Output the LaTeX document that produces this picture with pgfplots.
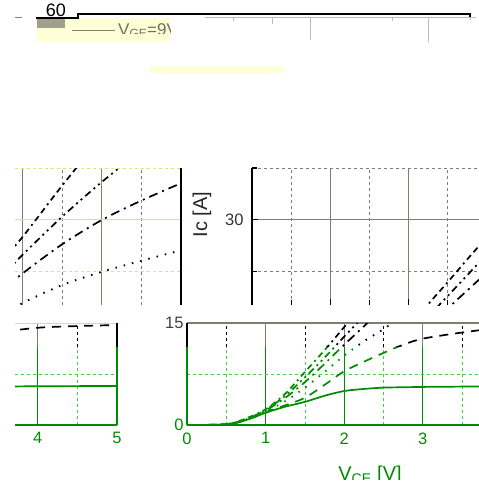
\documentclass[border=0pt]{standalone}
\usepackage{fontspec}
\setmainfont{Liberation Sans}
\usepackage{pgfplots}
\usepackage{pgfplotstable}
\pgfplotsset{compat=1.18}

\definecolor{gr}{RGB}{0,140,0}
\definecolor{lgr}{RGB}{70,205,70}
\definecolor{gridgray}{RGB}{125,125,115}
\definecolor{paleyel}{RGB}{255,255,215}
\definecolor{legfill}{RGB}{160,160,140}
\definecolor{yelgrid}{RGB}{225,225,120}

% collector current Ic [A] against V_CE [V], one column per gate voltage
\pgfplotstableread{
v     a     b     c     d     e     f
0     0     0     0     0     0     0
0.4   0.05  0.05  0.05  0.05  0.05  0.05
0.6   0.25  0.25  0.3   0.3   0.3   0.35
0.8   0.9   0.95  1.0   1.0   1.1   1.2
1.0   1.8   1.9   2.0   2.1   2.2   2.3
1.25  2.7   2.9   3.5   4.0   4.3   4.6
1.5   3.4   4.0   5.5   6.3   7.0   7.8
1.75  4.3   5.9   7.8   9.0   9.9   11.0
2.0   5.0   7.9   10.2  11.8  13.0  14.4
2.25  5.3   9.3   12.3  14.5  16.0  17.8
2.5   5.5   10.6  14.1  17.2  19.0  21.0
2.75  5.55  11.8  16.2  19.8  22.0  24.3
3.0   5.6   12.7  18.0  22.3  25.0  27.6
3.5   5.65  13.6  20.6  26.5  30.5  35.0
4.0   5.7   14.3  22.5  30.0  35.5  42.0
4.5   5.72  14.55 24.1  32.8  40.0  48.0
5.0   5.75  14.7  25.6  35.3  44.0  54.0
}\ic

\pgfplotsset{
  tile/.style={scale only axis, anchor=south west, clip=true,
    separate axis lines,
    /pgf/number format/assume math mode=true,
    tick label style={font=\fontsize{16.5}{16.5}\selectfont},
    tick align=inside, major tick length=0pt, minor tick length=0pt,
    grid=both},
  sA/.style={line width=1.7pt, smooth},
  sB/.style={line width=1.7pt, smooth, dash pattern=on 9pt off 7pt},
  sC/.style={line width=1.9pt, smooth, dash pattern=on 1.5pt off 7pt},
  sD/.style={line width=1.7pt, smooth, dash pattern=on 9pt off 5pt on 2pt off 5pt},
  sE/.style={line width=1.7pt, smooth, dash pattern=on 7pt off 4pt on 2pt off 4pt on 2pt off 4pt},
  sF/.style={line width=1.7pt, smooth, dash pattern=on 6pt off 4pt on 6pt off 4pt on 2pt off 4pt},
}
\newcommand\curves[1]{%
  \addplot[sA,#1] table[x=v,y=a]{\ic};
  \addplot[sB,#1] table[x=v,y=b]{\ic};
  \addplot[sC,#1] table[x=v,y=c]{\ic};
  \addplot[sD,#1] table[x=v,y=d]{\ic};
  \addplot[sE,#1] table[x=v,y=e]{\ic};
  \addplot[sF,#1] table[x=v,y=f]{\ic};
}

\begin{document}
\begin{tikzpicture}
\path[use as bounding box] (0pt,0pt) rectangle (479pt,-496pt);
\clip (0pt,0pt) rectangle (479pt,-496pt);

% top strip
\fill[paleyel] (37pt,-18pt) rectangle (170pt,-42pt);
\fill[paleyel] (150pt,-66pt) rectangle (283pt,-73pt);
\fill[legfill] (37pt,-18pt) rectangle (65pt,-28pt);
\draw[legfill!80!black, line width=1pt] (72pt,-30pt) -- (115pt,-30pt);
\begin{scope}
  \clip (116pt,-18pt) rectangle (170pt,-33pt);
  \node[anchor=north west, inner sep=0pt, text=legfill!70!black,
        font=\fontsize{17}{17}\selectfont] at (118pt,-23pt) {V\textsubscript{GE}=9V};
\end{scope}
\draw[gridgray!50, line width=0.8pt] (205pt,-17pt) -- (476pt,-17pt);
\foreach \xx/\yy in {233/21,272/24,310/40,392/21,428/42,470/20}
  \draw[gridgray!50, line width=0.8pt] (\xx pt,-17pt) -- (\xx pt,-\yy pt);
\draw[line width=1.3pt] (36pt,-18pt) -- (78pt,-18pt) -- (78pt,-14pt) -- (470pt,-14pt) -- (470pt,-17pt);
\draw[gray, line width=1pt] (15pt,-17pt) -- (22pt,-17pt);
\node[font=\fontsize{18}{18}\selectfont, inner sep=0pt] at (56pt,-10pt) {60};

% middle row, left tile
\begin{axis}[tile, at={(15pt,-305pt)}, width=166pt, height=137pt,
  xmin=2.9, xmax=5, ymin=17.7, ymax=37.5,
  axis x line*=bottom, x axis line style={draw=none}, xticklabels={},
  axis y line*=right, y axis line style={black, line width=2pt}, yticklabels={},
  xtick={3,4}, minor xtick={3.5,4.5}, ytick={30}, minor ytick={22.5,37.5},
  major x grid style={gridgray, line width=1pt},
  minor x grid style={gridgray, dashed, line width=0.8pt},
  major y grid style={yelgrid, line width=1pt},
  minor y grid style={yelgrid, dashed, line width=0.8pt}]
  \curves{black}
\end{axis}

% middle row, right tile
\begin{axis}[tile, at={(252pt,-305pt)}, width=227pt, height=137pt,
  xmin=0, xmax=2.9, ymin=17.7, ymax=37.5,
  axis x line*=bottom, x axis line style={draw=none}, xticklabels={},
  axis y line*=left, y axis line style={black, line width=2pt},
  xtick={1,2}, minor xtick={0.5,1.5,2.5}, ytick={30}, minor ytick={22.5,37.5},
  major tick length=6pt, minor tick length=5pt, tick style={black, line width=1.2pt},
  yticklabel style={xshift=-5pt, text=black!80},
  ylabel={Ic [A]},
  ylabel style={at={(axis description cs:-0.22,0.66)}, anchor=center,
    font=\fontsize{20}{20}\selectfont, text=black!85},
  major grid style={gridgray, line width=1pt},
  minor grid style={gridgray, dashed, line width=0.8pt}]
  \curves{black}
\end{axis}

% bottom row, left tile, lower part
\begin{axis}[tile, at={(15pt,-425pt)}, width=102pt, height=78.2pt,
  xmin=3.715, xmax=5, ymin=0, ymax=11.5,
  axis x line*=bottom, axis y line*=right, axis line style={gr, line width=1.8pt},
  xtick={4,5}, minor xtick={4.5}, ytick={0}, yticklabels={}, minor ytick={7.5},
  major tick length=6pt, tick style={gr, line width=1pt},
  xticklabel style={text=gr, yshift=-4pt},
  major grid style={gr, line width=1pt},
  minor grid style={lgr, dashed, line width=0.8pt}]
  \curves{gr}
\end{axis}
% bottom row, left tile, upper part
\begin{axis}[tile, at={(15pt,-346.8pt)}, width=102pt, height=23.8pt,
  xmin=3.715, xmax=5, ymin=11.5, ymax=15,
  axis x line*=bottom, x axis line style={draw=none}, xticklabels={},
  axis y line*=right, y axis line style={black, line width=1.8pt}, yticklabels={},
  xtick={4}, minor xtick={4.5}, ytick={15},
  major x grid style={gridgray, line width=1pt},
  minor x grid style={black, dashed, line width=0.8pt},
  major y grid style={yelgrid, line width=1pt}]
  \curves{black}
\end{axis}

% bottom row, right tile, lower part
\begin{axis}[tile, at={(187pt,-425pt)}, width=292pt, height=78.2pt,
  xmin=0, xmax=3.715, ymin=0, ymax=11.5,
  axis x line*=bottom, axis y line*=left, axis line style={gr, line width=1.8pt},
  xtick={0,1,2,3}, minor xtick={0.5,1.5,2.5,3.5}, ytick={0}, minor ytick={7.5},
  major tick length=6pt, tick style={gr, line width=1pt},
  tick label style={text=gr}, xticklabel style={yshift=-4pt},
  major grid style={gr, line width=1pt},
  minor grid style={lgr, dashed, line width=0.8pt}]
  \curves{gr}
\end{axis}
% bottom row, right tile, upper part
\begin{axis}[tile, at={(187pt,-346.8pt)}, width=292pt, height=23.8pt,
  xmin=0, xmax=3.715, ymin=11.5, ymax=15,
  axis x line*=bottom, x axis line style={draw=none}, xticklabels={},
  axis y line*=left, y axis line style={black, line width=1.8pt},
  xtick={1,2,3}, minor xtick={0.5,1.5,2.5,3.5}, ytick={15},
  yticklabel style={text=black!75},
  major x grid style={gridgray, line width=1pt},
  minor x grid style={black, dashed, line width=0.8pt},
  major y grid style={gridgray, line width=1.2pt}]
  \curves{black}
\end{axis}

% x axis title, cut off at the bottom as in the reference
\begin{scope}
  \clip (320pt,-455pt) rectangle (420pt,-479pt);
  \node[anchor=north, inner sep=0pt, text=gr, font=\fontsize{20}{20}\selectfont]
    at (370pt,-466pt) {V\textsubscript{CE} [V]};
\end{scope}
\end{tikzpicture}
\end{document}
